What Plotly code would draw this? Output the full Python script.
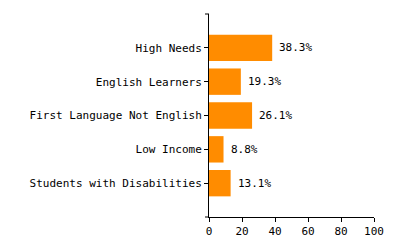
import plotly.graph_objects as go

categories = ["High Needs", "English Learners", "First Language Not English",
              "Low Income", "Students with Disabilities"]
values = [38.3, 19.3, 26.1, 8.8, 13.1]
labels = ["38.3%", "19.3%", "26.1%", "8.8%", "13.1%"]
x_ticks = [0, 20, 40, 60, 80, 100]

FONT = dict(family="DejaVu Sans Mono", size=11, color="#000")

fig = go.Figure(go.Bar(
    y=categories, x=values, orientation="h",
    marker=dict(color="#FF8C00", line=dict(width=0)),
    width=0.78, hoverinfo="skip",
))

for c, v, t in zip(categories, values, labels):
    fig.add_annotation(x=v, y=c, text=t, showarrow=False, xanchor="left",
                       xshift=5, font=FONT)

# outer ticks of the left axis domain (top and bottom)
for yy in (0, 1):
    fig.add_shape(type="line", xref="paper", yref="paper", xsizemode="pixel",
                  xanchor=0, x0=-4, x1=0, y0=yy, y1=yy,
                  line=dict(color="#000", width=1))

fig.update_layout(
    width=400, height=250,
    margin=dict(l=209, r=26, t=14, b=29, pad=0),
    paper_bgcolor="white", plot_bgcolor="white",
    font=FONT, showlegend=False,
)
fig.update_xaxes(range=[0, 100], tickvals=x_ticks, showgrid=False, zeroline=False,
                 showline=True, linecolor="#000", linewidth=1,
                 ticks="outside", ticklen=4, tickcolor="#000", tickfont=FONT)
fig.update_yaxes(categoryorder="array", categoryarray=categories,
                 range=[5, -1], showgrid=False, zeroline=False,
                 showline=True, linecolor="#000", linewidth=1,
                 ticks="outside", ticklen=4, tickcolor="#000", tickfont=FONT)

fig.write_html("out.html")
